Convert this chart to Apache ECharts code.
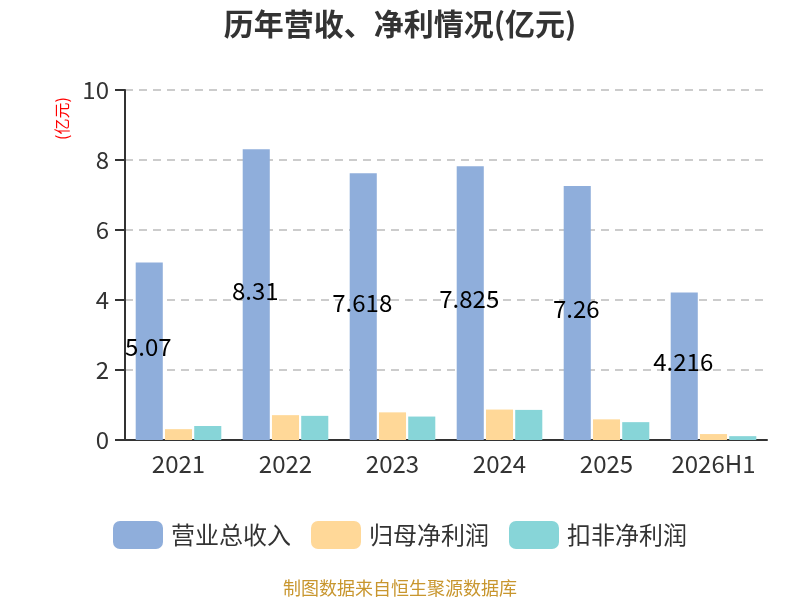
<!DOCTYPE html>
<html><head><meta charset="utf-8">
<script src="https://cdn.jsdelivr.net/npm/echarts@6/dist/echarts.min.js"></script>
<style>html,body{margin:0;padding:0;background:#fff}#c{width:800px;height:600px}</style>
</head><body><div id="c"></div>
<script>
const categories = ['2021','2022','2023','2024','2025','2026H1'];
const revenue = [5.07, 8.31, 7.618, 7.825, 7.26, 4.216];
const netProfit = [0.31, 0.71, 0.79, 0.87, 0.59, 0.17];
const deductedProfit = [0.40, 0.69, 0.67, 0.86, 0.51, 0.11];
const seriesNames = ['营业总收入','归母净利润','扣非净利润'];
const yTicks = [0, 2, 4, 6, 8, 10];

const font = '"Noto Sans CJK SC","Noto Sans",sans-serif';
const chart = echarts.init(document.getElementById('c'));
chart.setOption({
  backgroundColor: '#fff',
  title: {text: '历年营收、净利情况(亿元)', left: 'center', top: 4,
    textStyle: {fontSize: 30, fontWeight: 'bold', color: '#333', fontFamily: font}},
  graphic: [
    {type: 'text', left: 'center', top: 579,
      style: {text: '制图数据来自恒生聚源数据库', fill: '#c8962e', fontSize: 18, fontFamily: font}},
    {type: 'text', x: 54, y: 140, rotation: Math.PI / 2,
      style: {text: '(亿元)', fill: 'red', fontSize: 16, fontFamily: font}}
  ],
  legend: {bottom: 46, left: 'center', itemWidth: 50, itemHeight: 28, itemGap: 20,
    textStyle: {fontSize: 24, color: '#333', fontFamily: font, padding: [0, 0, 0, 3]},
    data: seriesNames},
  grid: {left: 125, right: 33, top: 90, bottom: 160, containLabel: false},
  xAxis: {type: 'category', data: categories,
    axisLine: {lineStyle: {color: '#333', width: 2}},
    axisTick: {length: 8, lineStyle: {color: '#333', width: 2}},
    axisLabel: {fontSize: 24, color: '#333', margin: 12, fontFamily: font, interval: 0}},
  yAxis: {type: 'value', min: yTicks[0], max: yTicks[yTicks.length-1], interval: 2,
    axisLine: {show: true, lineStyle: {color: '#333', width: 2}},
    axisTick: {show: true, length: 10, lineStyle: {color: '#333', width: 2}},
    axisLabel: {fontSize: 24, color: '#333', margin: 16, fontFamily: font},
    splitLine: {lineStyle: {type: [8, 6], color: '#ccc', width: 2}}},
  series: [
    {name: seriesNames[0], type: 'bar', data: revenue, barGap: '8%', barCategoryGap: '20%',
      itemStyle: {color: '#8faedb'},
      label: {show: true, position: 'inside', offset: [-1, -4], color: '#000', fontSize: 24, fontFamily: font}},
    {name: seriesNames[1], type: 'bar', data: netProfit, itemStyle: {color: '#ffd898'}},
    {name: seriesNames[2], type: 'bar', data: deductedProfit, itemStyle: {color: '#87d5d8'}}
  ]
});
</script></body></html>
